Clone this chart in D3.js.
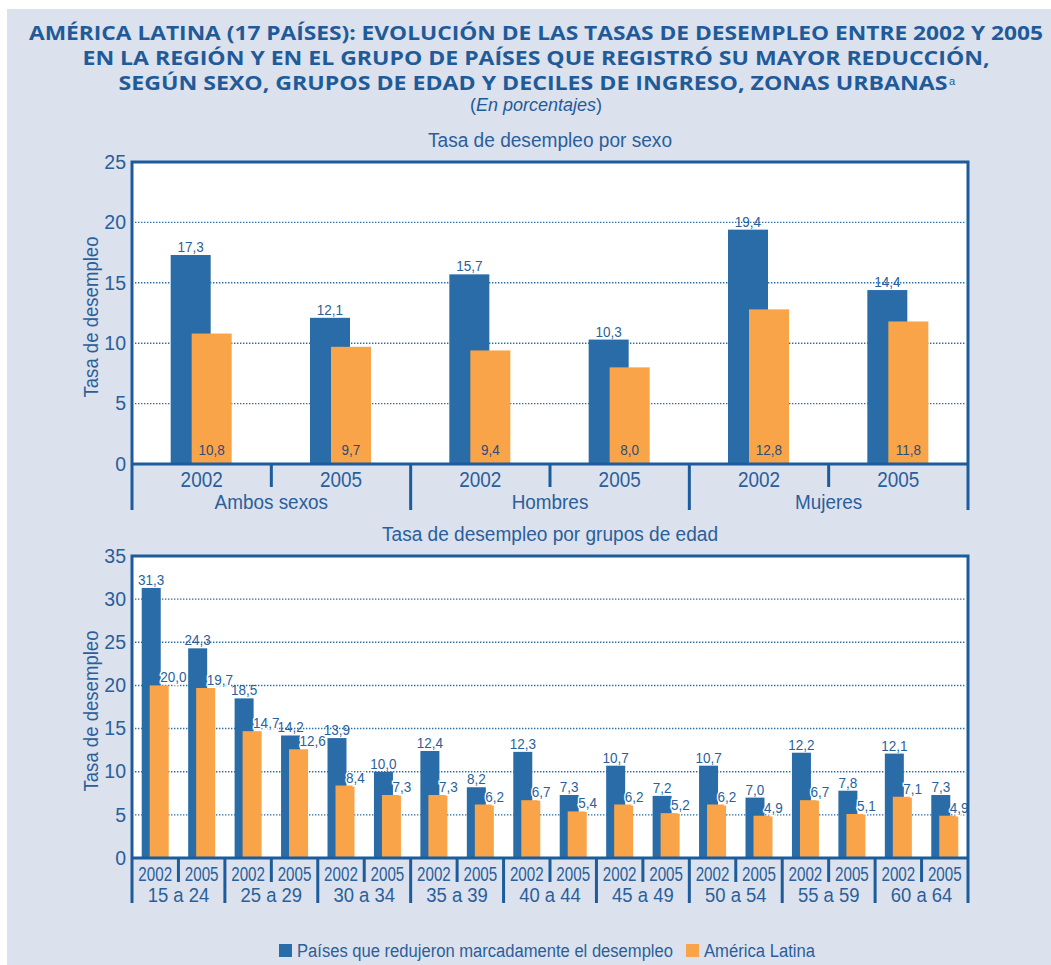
<!DOCTYPE html>
<html>
<head>
<meta charset="utf-8">
<script src="https://cdn.jsdelivr.net/npm/d3@7"></script>
<style>
  body { margin: 0; background: #fff; }
  svg { display: block; }
</style>
</head>
<body>
<div id="chart"></div>
<script>
// data
const titleLines = [
  "AMÉRICA LATINA (17 PAÍSES): EVOLUCIÓN DE LAS TASAS DE DESEMPLEO ENTRE 2002 Y 2005",
  "EN LA REGIÓN Y EN EL GRUPO DE PAÍSES QUE REGISTRÓ SU MAYOR REDUCCIÓN,",
  "SEGÚN SEXO, GRUPOS DE EDAD Y DECILES DE INGRESO, ZONAS URBANAS"
];
const years = ["2002", "2005"];

const sexGroups = ["Ambos sexos", "Hombres", "Mujeres"];
const sexReducers = [17.3, 12.1, 15.7, 10.3, 19.4, 14.4];
const sexLatam = [10.8, 9.7, 9.4, 8.0, 12.8, 11.8];
const sexTicks = [0, 5, 10, 15, 20, 25];

const ageGroups = ["15 a 24", "25 a 29", "30 a 34", "35 a 39", "40 a 44", "45 a 49", "50 a 54", "55 a 59", "60 a 64"];
const ageReducers = [31.3, 24.3, 18.5, 14.2, 13.9, 10.0, 12.4, 8.2, 12.3, 7.3, 10.7, 7.2, 10.7, 7.0, 12.2, 7.8, 12.1, 7.3];
const ageLatam = [20.0, 19.7, 14.7, 12.6, 8.4, 7.3, 7.3, 6.2, 6.7, 5.4, 6.2, 5.2, 6.2, 4.9, 6.7, 5.1, 7.1, 4.9];
const ageTicks = [0, 5, 10, 15, 20, 25, 30, 35];

const seriesNames = ["Países que redujeron marcadamente el desempleo", "América Latina"];

const BLUE = "#2a6ca8";
const ORANGE = "#f9a448";
const LINE = "#1d5c9c";
const TEXT = "#2a5f9a";
const SANS = "'Liberation Sans', Arial, sans-serif";

const fmt = d3.formatLocale({ decimal: ",", thousands: ".", grouping: [3], currency: ["", ""] }).format(".1f");

// the original uses a condensed face, so squeeze the glyphs a bit
function squeeze(sel, k) {
  sel.each(function () {
    const w = this.getComputedTextLength();
    d3.select(this).attr("textLength", w * k).attr("lengthAdjust", "spacingAndGlyphs");
  });
  return sel;
}

const width = 1051, height = 965;
const left = 132, right = 968;

const svg = d3.select("#chart").append("svg")
  .attr("width", width)
  .attr("height", height);

svg.append("rect")
  .attr("x", 7).attr("y", 9)
  .attr("width", width - 7).attr("height", height - 9)
  .attr("fill", "#dce1ee");

// title
const titleWidths = [1014, 907, 829];
const titleBase = [40, 65, 90];
titleLines.forEach((t, i) => {
  svg.append("text")
    .attr("x", 536 - (i == 2 ? 3 : 0))
    .attr("y", titleBase[i])
    .attr("text-anchor", "middle")
    .attr("font-family", "'Open Sans', sans-serif")
    .attr("font-weight", 700)
    .attr("font-size", 20)
    .attr("fill", "#1f5b99")
    .attr("textLength", titleWidths[i])
    .attr("lengthAdjust", "spacingAndGlyphs")
    .text(t);
});
svg.append("text")
  .attr("x", 949).attr("y", 85)
  .attr("font-family", SANS)
  .attr("font-size", 11)
  .attr("fill", "#1f5b99")
  .text("a");

const sub = svg.append("text")
  .attr("x", 536).attr("y", 111)
  .attr("text-anchor", "middle")
  .attr("font-family", SANS)
  .attr("font-size", 18)
  .attr("fill", "#1f5b99");
sub.append("tspan").text("(");
sub.append("tspan").attr("font-style", "italic").text("En porcentajes");
sub.append("tspan").text(")");

function drawPanel(cfg) {
  const g = svg.append("g");
  const n = cfg.reducers.length;

  const x = d3.scaleBand().domain(d3.range(n)).range([left, right]);
  const y = d3.scaleLinear().domain([0, d3.max(cfg.ticks)]).range([cfg.bottom, cfg.top]);
  const bw = x.bandwidth();

  g.append("text")
    .attr("x", (left + right) / 2)
    .attr("y", cfg.top - 15)
    .attr("text-anchor", "middle")
    .attr("font-family", SANS)
    .attr("font-size", 20)
    .attr("fill", TEXT)
    .attr("textLength", cfg.titleW)
    .attr("lengthAdjust", "spacingAndGlyphs")
    .text(cfg.title);

  g.append("rect")
    .attr("x", left).attr("y", cfg.top)
    .attr("width", right - left).attr("height", cfg.bottom - cfg.top)
    .attr("fill", "#fff");

  // dotted grid
  g.selectAll(".grid")
    .data(cfg.ticks.filter((t) => t > 0 && t < d3.max(cfg.ticks)))
    .enter()
    .append("line")
    .attr("x1", left + 3).attr("x2", right - 3)
    .attr("y1", (d) => y(d)).attr("y2", (d) => y(d))
    .attr("stroke", BLUE)
    .attr("stroke-width", 1.4)
    .attr("stroke-dasharray", "1.4 1.6");

  g.selectAll(".blue")
    .data(cfg.reducers)
    .enter()
    .append("rect")
    .attr("x", (d, i) => x(i) + bw / 2 + cfg.blueOff)
    .attr("y", (d) => y(d))
    .attr("width", cfg.barW)
    .attr("height", (d) => y(0) - y(d))
    .attr("fill", BLUE);

  g.selectAll(".orange")
    .data(cfg.latam)
    .enter()
    .append("rect")
    .attr("x", (d, i) => x(i) + bw / 2 + cfg.orangeOff)
    .attr("y", (d) => y(d))
    .attr("width", cfg.barW)
    .attr("height", (d) => y(0) - y(d))
    .attr("fill", ORANGE);

  const blueLab = g.selectAll(".blueLab")
    .data(cfg.reducers)
    .enter()
    .append("text")
    .attr("x", (d, i) => x(i) + bw / 2 + cfg.blueOff + cfg.barW / 2)
    .attr("y", (d) => y(d) - 3)
    .attr("text-anchor", "middle")
    .attr("font-family", SANS)
    .attr("font-size", 15)
    .attr("fill", TEXT)
    .text((d) => fmt(d));
  squeeze(blueLab, 0.9);

  let orangeLab;
  if (cfg.orangeInside) {
    orangeLab = g.selectAll(".orangeLab")
      .data(cfg.latam)
      .enter()
      .append("text")
      .attr("x", (d, i) => x(i) + bw / 2 + cfg.orangeOff + cfg.barW / 2)
      .attr("y", y(0) - 9)
      .attr("text-anchor", "middle")
      .attr("font-family", SANS)
      .attr("font-size", 15)
      .attr("fill", "#2e4c78")
      .text((d) => fmt(d));
  } else {
    orangeLab = g.selectAll(".orangeLab")
      .data(cfg.latam)
      .enter()
      .append("text")
      .attr("x", (d, i) => x(i) + bw / 2 + cfg.orangeOff + cfg.barW / 2 + 1)
      .attr("y", (d) => y(d) - 3)
      .attr("font-family", SANS)
      .attr("font-size", 15)
      .attr("fill", TEXT)
      .attr("stroke", "#fff")
      .attr("stroke-width", 3)
      .attr("paint-order", "stroke")
      .text((d) => fmt(d));
  }
  squeeze(orangeLab, 0.9);

  // y axis labels
  const yAxis = d3.axisLeft(y).tickValues(cfg.ticks).tickSize(0).tickPadding(6);
  const ya = g.append("g").attr("transform", `translate(${left},0)`).call(yAxis);
  ya.select(".domain").remove();
  ya.selectAll("text")
    .attr("font-family", SANS)
    .attr("font-size", 19.5)
    .attr("fill", TEXT);

  g.append("text")
    .attr("transform", `translate(98,${(cfg.top + cfg.bottom) / 2 + 4}) rotate(-90)`)
    .attr("text-anchor", "middle")
    .attr("font-family", SANS)
    .attr("font-size", 20.5)
    .attr("fill", TEXT)
    .attr("textLength", 161)
    .attr("lengthAdjust", "spacingAndGlyphs")
    .text("Tasa de desempleo");

  // frame
  const frame = g.append("g").attr("stroke", LINE).attr("stroke-width", 3).attr("fill", "none");
  frame.append("path")
    .attr("d", `M${left},${cfg.axisEnd}V${cfg.top}H${right}V${cfg.axisEnd}`);
  frame.append("line")
    .attr("x1", left).attr("x2", right)
    .attr("y1", y(0)).attr("y2", y(0));

  // category separators
  d3.range(1, n).forEach((i) => {
    frame.append("line")
      .attr("x1", x(i)).attr("x2", x(i))
      .attr("y1", y(0))
      .attr("y2", i % 2 == 0 ? cfg.axisEnd : cfg.tickEnd);
  });

  const yearLab = g.selectAll(".year")
    .data(cfg.reducers)
    .enter()
    .append("text")
    .attr("x", (d, i) => x(i) + bw / 2)
    .attr("y", cfg.yearBase)
    .attr("text-anchor", "middle")
    .attr("font-family", SANS)
    .attr("font-size", cfg.yearSize)
    .attr("fill", TEXT)
    .text((d, i) => years[i % 2]);
  squeeze(yearLab, cfg.yearSqueeze);

  const groupLab = g.selectAll(".group")
    .data(cfg.groups)
    .enter()
    .append("text")
    .attr("x", (d, i) => x(i * 2) + bw)
    .attr("y", cfg.groupBase)
    .attr("text-anchor", "middle")
    .attr("font-family", SANS)
    .attr("font-size", cfg.groupSize)
    .attr("fill", TEXT)
    .text((d) => d);
  squeeze(groupLab, cfg.groupSqueeze);
}

drawPanel({
  title: "Tasa de desempleo por sexo",
  titleW: 244,
  groups: sexGroups,
  reducers: sexReducers,
  latam: sexLatam,
  ticks: sexTicks,
  top: 162, bottom: 464,
  tickEnd: 487, axisEnd: 510,
  blueOff: -31, orangeOff: -10, barW: 40,
  orangeInside: true,
  yearBase: 487, yearSize: 21.5, yearSqueeze: 0.88,
  groupBase: 509, groupSize: 21, groupSqueeze: 0.9
});

drawPanel({
  title: "Tasa de desempleo por grupos de edad",
  titleW: 336,
  groups: ageGroups,
  reducers: ageReducers,
  latam: ageLatam,
  ticks: ageTicks,
  top: 556, bottom: 858,
  tickEnd: 882, axisEnd: 903,
  blueOff: -13.5, orangeOff: -5.5, barW: 19,
  orangeInside: false,
  yearBase: 881, yearSize: 20.5, yearSqueeze: 0.74,
  groupBase: 902, groupSize: 20.5, groupSqueeze: 0.9
});

// legend
const legendW = [376, 111];
const legend = svg.append("g").attr("transform", "translate(279,944)");
let lx = 0;
seriesNames.forEach((name, i) => {
  legend.append("rect")
    .attr("x", lx).attr("y", 0)
    .attr("width", 13).attr("height", 13)
    .attr("fill", i == 0 ? BLUE : ORANGE);
  legend.append("text")
    .attr("x", lx + 18).attr("y", 13)
    .attr("font-family", SANS)
    .attr("font-size", 18)
    .attr("fill", TEXT)
    .attr("textLength", legendW[i])
    .attr("lengthAdjust", "spacingAndGlyphs")
    .text(name);
  lx += 18 + legendW[i] + 13;
});
</script>
</body>
</html>
